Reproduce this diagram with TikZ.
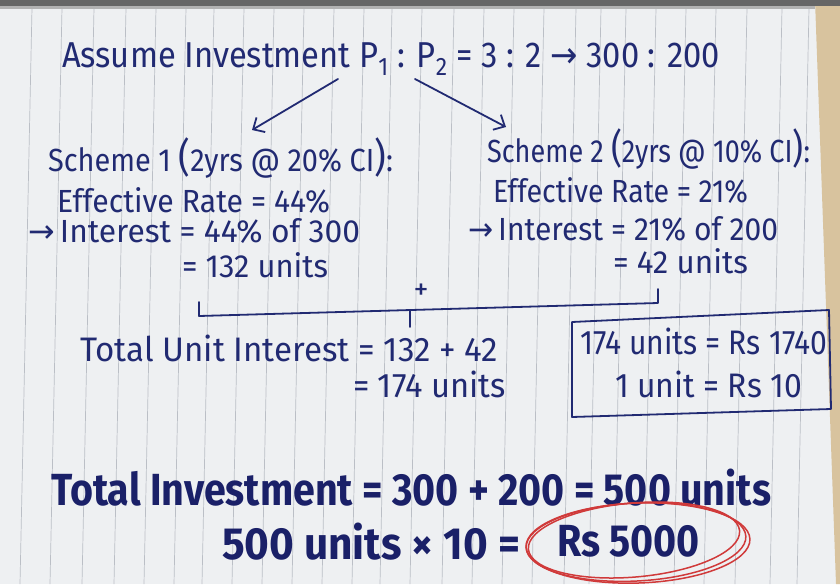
\documentclass[tikz,border=0pt]{standalone}
\usepackage{fontspec}
\setmainfont{Fira Sans}
\newfontfamily\symfont{DejaVu Sans}
\usepackage{graphicx}
\usetikzlibrary{arrows.meta}
\definecolor{ink}{HTML}{212A72}
\definecolor{inkb}{HTML}{1A2068}
\definecolor{paper}{HTML}{EEF0F2}
\definecolor{rulecol}{HTML}{BBBFC6}
\definecolor{wood}{HTML}{D8C39E}
\definecolor{redink}{HTML}{D03A3A}
\newcommand{\fitw}[2]{\resizebox{#1pt}{\height}{#2}}
\tikzset{
  txt/.style={anchor=base west, inner sep=0pt, outer sep=0pt, text=ink, font=\fontsize{32}{32}\selectfont},
  midtxt/.style={txt, font=\fontsize{34}{34}\selectfont},
  toptxt/.style={txt, font=\fontsize{36}{36}\selectfont},
  big/.style={txt, text=inkb, font=\fontsize{45}{45}\selectfont\bfseries},
  pen/.style={draw=ink, line width=1.8pt, line cap=round, line join=round},
  penarrow/.style={pen, -{Straight Barb[length=9pt,width=17pt,line width=1.8pt]}},
  redpen/.style={draw=redink, line width=1.5pt},
  paperrule/.style={draw=rulecol, line width=0.7pt}
}
\begin{document}
\begin{tikzpicture}[x=1pt,y=-1pt]
\useasboundingbox (0,0) rectangle (840,584);
% paper and background
\fill[paper] (0,0) rectangle (840,584);
\fill[wood] (815,0) -- (840,0) -- (840,584) -- (836,584) -- cycle;
\foreach \x in {23,53,85,117,147,177,205,235,265,295,325,355,383,413,445,475,505,535,567,592,617,647,677,707,738,773,800}{
  \draw[paperrule] (\x+9,8) -- (\x-3,584);
}
\fill[black!60] (0,0) rectangle (840,6);
\fill[black!30] (0,6) rectangle (815,9);

% top line
\node[toptxt] (top) at (62,67) {\fitw{658}{Assume Investment P\textsubscript{1} : P\textsubscript{2} = 3 : 2 {\symfont →} 300 : 200}};
\coordinate (a1s) at (338,79);
\coordinate (a1e) at (252,130);
\coordinate (a2s) at (415,79);
\coordinate (a2e) at (506,127);
\draw[penarrow] (a1s) -- (a1e);
\draw[penarrow] (a2s) -- (a2e);

% scheme 1
\node[txt] (s1) at (48,171) {\fitw{345}{Scheme 1 {\fontsize{40}{40}\selectfont(}2yrs @ 20\% CI{\fontsize{40}{40}\selectfont)}:}};
\node[txt] (s1r) at (57,212) {\fitw{273}{Effective Rate = 44\%}};
\node[txt] (s1i) at (28,242) {\fitw{332}{{\symfont →}\,Interest = 44\% of 300}};
\node[txt] (s1u) at (182,277) {\fitw{146}{= 132 units}};

% scheme 2
\node[txt] (s2) at (487,162) {\fitw{323}{Scheme 2 {\fontsize{40}{40}\selectfont(}2yrs @ 10\% CI{\fontsize{40}{40}\selectfont)}:}};
\node[txt] (s2r) at (493,202) {\fitw{255}{Effective Rate = 21\%}};
\node[txt] (s2i) at (468,240) {\fitw{310}{{\symfont →}\,Interest = 21\% of 200}};
\node[txt] (s2u) at (613,273) {\fitw{135}{= 42 units}};

% bracket
\coordinate (bl) at (199,302);
\coordinate (blb) at (199,316);
\coordinate (brb) at (658,303);
\coordinate (br) at (658,289);
\draw[pen] (bl) -- (blb) -- (brb) -- (br);
\node[txt, anchor=center, font=\fontsize{30}{30}\selectfont] (plus) at (421,292) {+};
\coordinate (st) at (410,310);
\coordinate (sb) at (410,327);
\draw[pen] (st) -- (sb);

% total unit interest
\node[midtxt] (tu) at (80,361) {\fitw{418}{Total Unit Interest = 132 + 42}};
\node[midtxt] (tu2) at (353,397) {\fitw{153}{= 174 units}};

% box
\node[midtxt] (b1) at (580,354) {\fitw{247}{174 units = Rs 1740}};
\node[midtxt] (b2) at (615,397) {\fitw{187}{1 unit = Rs 10}};
\coordinate (k1) at (572,322);
\coordinate (k2) at (829,310);
\coordinate (k3) at (831,409);
\coordinate (k4) at (572,417);
\draw[pen] (k1) -- (k2) -- (k3) -- (k4) -- cycle;

% bottom lines
\node[big] (ti) at (51,505) {\fitw{720}{Total Investment = 300 + 200 = 500 units}};
\node[big] (mul) at (222,559) {\fitw{298}{500 units × 10 =}};
\node[big] (res) at (557,556) {\fitw{143}{Rs 5000}};

% red ellipse
\draw[redpen] (636,542) ellipse [x radius=110, y radius=39, rotate=3];
\draw[redpen] (634,540) ellipse [x radius=106, y radius=37, rotate=5];
\draw[redpen] (638,543) ellipse [x radius=112, y radius=40, rotate=2];
\end{tikzpicture}
\end{document}
